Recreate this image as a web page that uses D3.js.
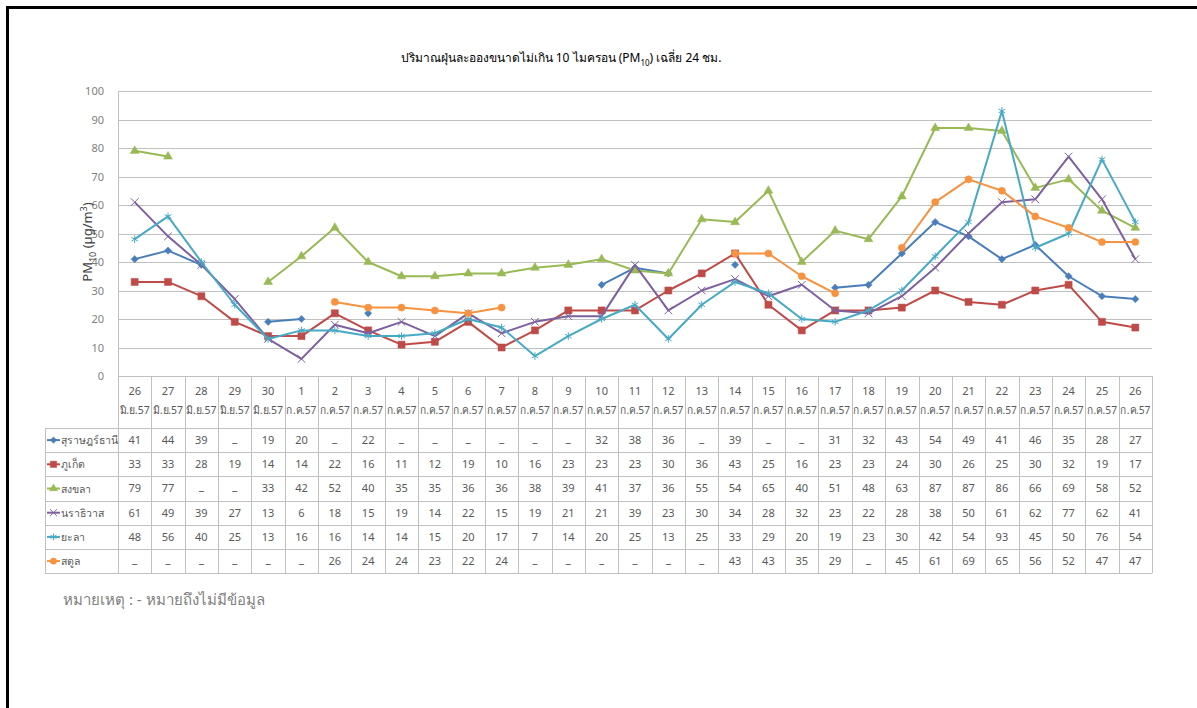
<!DOCTYPE html>
<html>
<head>
<meta charset="utf-8">
<script src="https://cdn.jsdelivr.net/npm/d3@7"></script>
<style>
  body { margin: 0; background: #fff; }
  svg { display: block; }
  text { font-family: "Noto Sans", "DejaVu Sans", sans-serif; fill: #595959; }
</style>
</head>
<body>
<script>
// dates along the x axis (day / month label)
const days = ["26","27","28","29","30","1","2","3","4","5","6","7","8","9","10","11","12","13","14","15","16","17","18","19","20","21","22","23","24","25","26"];
const months = ["มิ.ย.57","มิ.ย.57","มิ.ย.57","มิ.ย.57","มิ.ย.57",
  "ก.ค.57","ก.ค.57","ก.ค.57","ก.ค.57","ก.ค.57","ก.ค.57","ก.ค.57","ก.ค.57","ก.ค.57","ก.ค.57",
  "ก.ค.57","ก.ค.57","ก.ค.57","ก.ค.57","ก.ค.57","ก.ค.57","ก.ค.57","ก.ค.57","ก.ค.57","ก.ค.57",
  "ก.ค.57","ก.ค.57","ก.ค.57","ก.ค.57","ก.ค.57","ก.ค.57"];

// null = no data
const suratthani = [41,44,39,null,19,20,null,22,null,null,null,null,null,null,32,38,36,null,39,null,null,31,32,43,54,49,41,46,35,28,27];
const phuket     = [33,33,28,19,14,14,22,16,11,12,19,10,16,23,23,23,30,36,43,25,16,23,23,24,30,26,25,30,32,19,17];
const songkhla   = [79,77,null,null,33,42,52,40,35,35,36,36,38,39,41,37,36,55,54,65,40,51,48,63,87,87,86,66,69,58,52];
const narathiwat = [61,49,39,27,13,6,18,15,19,14,22,15,19,21,21,39,23,30,34,28,32,23,22,28,38,50,61,62,77,62,41];
const yala       = [48,56,40,25,13,16,16,14,14,15,20,17,7,14,20,25,13,25,33,29,20,19,23,30,42,54,93,45,50,76,54];
const satun      = [null,null,null,null,null,null,26,24,24,23,22,24,null,null,null,null,null,null,43,43,35,29,null,45,61,69,65,56,52,47,47];

const yTicks = [0,10,20,30,40,50,60,70,80,90,100];

const series = [
  { name: "สุราษฎร์ธานี", values: suratthani, color: "#4a7ebb", symbol: d3.symbolSquare, rot: 45, size: 26, fill: true },
  { name: "ภูเก็ต", values: phuket, color: "#be4b48", symbol: d3.symbolSquare, rot: 0, size: 50, fill: true },
  { name: "สงขลา", values: songkhla, color: "#98b954", symbol: d3.symbolTriangle, rot: 0, size: 34, fill: true },
  { name: "นราธิวาส", values: narathiwat, color: "#7d60a0", symbol: d3.symbolTimes, rot: 0, size: 40, fill: false },
  { name: "ยะลา", values: yala, color: "#46aac5", symbol: d3.symbolAsterisk, rot: 0, size: 40, fill: false },
  { name: "สตูล", values: satun, color: "#f69240", symbol: d3.symbolCircle, rot: 0, size: 40, fill: true }
];

const W = 1197, H = 708;
const plot = { left: 118, right: 1152, top: 91, bottom: 376 };
const tableLeft = 45, headerH = 52, rowH = 24.2;

const svg = d3.select("body").append("svg")
    .attr("width", W)
    .attr("height", H);

// frame lines (top + left)
svg.append("path")
    .attr("d", `M7.5,${H} V7.5 H${W}`)
    .attr("fill", "none")
    .attr("stroke", "#000")
    .attr("stroke-width", 3);

const x = d3.scaleBand()
    .domain(d3.range(days.length))
    .range([plot.left, plot.right]);

const y = d3.scaleLinear()
    .domain([0, 100])
    .range([plot.bottom, plot.top]);

// gridlines
svg.append("g")
  .selectAll("line")
  .data(yTicks)
  .enter()
  .append("line")
    .attr("x1", plot.left)
    .attr("x2", plot.right)
    .attr("y1", d => Math.round(y(d)) + 0.5)
    .attr("y2", d => Math.round(y(d)) + 0.5)
    .attr("stroke", "#c0c0c0");

// y axis labels
svg.append("g")
  .selectAll("text")
  .data(yTicks)
  .enter()
  .append("text")
    .attr("x", 104)
    .attr("y", d => y(d) + 4)
    .attr("text-anchor", "end")
    .style("font-size", "11px")
    .style("fill", "#7f7f7f")
    .text(d => d);

svg.append("line")
    .attr("x1", plot.left + 0.5).attr("x2", plot.left + 0.5)
    .attr("y1", plot.top).attr("y2", plot.bottom)
    .attr("stroke", "#c0c0c0");

// title
const title = svg.append("text")
    .attr("x", 561)
    .attr("y", 62)
    .attr("text-anchor", "middle")
    .style("font-size", "12px")
    .style("fill", "#000");
title.append("tspan").text("ปริมาณฝุ่นละอองขนาดไม่เกิน 10 ไมครอน (PM");
title.append("tspan").attr("dy", 4).style("font-size", "8px").text("10");
title.append("tspan").attr("dy", -4).text(") เฉลี่ย 24 ชม.");

// y axis title
const ylab = svg.append("text")
    .attr("transform", "translate(92,242) rotate(-90)")
    .attr("text-anchor", "middle")
    .style("font-size", "13px")
    .style("fill", "#404040");
ylab.append("tspan").text("PM");
ylab.append("tspan").attr("dy", 4).style("font-size", "9px").text("10");
ylab.append("tspan").attr("dy", -4).text(" (µg/m");
ylab.append("tspan").attr("dy", -5).style("font-size", "9px").text("3");
ylab.append("tspan").attr("dy", 5).text(")");

// lines + markers
const cx = i => x(i) + x.bandwidth() / 2;

const line = d3.line()
    .defined(d => d != null)
    .x((d, i) => cx(i))
    .y(d => y(d));

series.forEach(s => {
  svg.append("path")
      .datum(s.values)
      .attr("fill", "none")
      .attr("stroke", s.color)
      .attr("stroke-width", 2)
      .attr("stroke-linejoin", "round")
      .attr("d", line);

  svg.append("g")
    .selectAll("path")
    .data(s.values.map((v, i) => ({ v, i })).filter(d => d.v != null))
    .enter()
    .append("path")
      .attr("transform", d => `translate(${cx(d.i)},${y(d.v)}) rotate(${s.rot})`)
      .attr("d", d3.symbol().type(s.symbol).size(s.size))
      .attr("fill", s.fill ? s.color : "none")
      .attr("stroke", s.color)
      .attr("stroke-width", s.fill ? 0.5 : 1);
});

// data table
const tableTop = plot.bottom;
const tableBottom = tableTop + headerH + rowH * series.length;
const grid = svg.append("g").attr("stroke", "#c0c0c0").attr("fill", "none");

// column lines
x.domain().concat([days.length]).forEach(i => {
  const xx = Math.round(i < days.length ? x(i) : plot.right) + 0.5;
  grid.append("line")
      .attr("x1", xx).attr("x2", xx)
      .attr("y1", tableTop).attr("y2", tableBottom);
});
grid.append("line")
    .attr("x1", tableLeft + 0.5).attr("x2", tableLeft + 0.5)
    .attr("y1", tableTop + headerH).attr("y2", tableBottom);

// row lines
d3.range(series.length + 1).forEach(r => {
  const yy = Math.round(tableTop + headerH + r * rowH) + 0.5;
  grid.append("line")
      .attr("x1", tableLeft).attr("x2", plot.right)
      .attr("y1", yy).attr("y2", yy);
});

// header
const head = svg.append("g");
head.selectAll(".day")
  .data(days)
  .enter()
  .append("text")
    .attr("x", (d, i) => cx(i))
    .attr("y", tableTop + 19)
    .attr("text-anchor", "middle")
    .style("font-size", "11px")
    .text(d => d);
head.selectAll(".mon")
  .data(months)
  .enter()
  .append("text")
    .attr("x", (d, i) => cx(i))
    .attr("y", tableTop + 38)
    .attr("text-anchor", "middle")
    .attr("textLength", 30)
    .attr("lengthAdjust", "spacingAndGlyphs")
    .style("font-size", "11px")
    .text(d => d);

// rows
series.forEach((s, r) => {
  const rowY = tableTop + headerH + r * rowH;
  const g = svg.append("g");
  g.selectAll("text")
    .data(s.values)
    .enter()
    .append("text")
      .attr("x", (d, i) => cx(i))
      .attr("y", d => rowY + (d == null ? 14 : 16))
      .attr("text-anchor", "middle")
      .style("font-size", "11px")
      .style("fill", d => d == null ? "#333" : "#595959")
      .text(d => d == null ? "_" : d);

  // legend key
  const ky = rowY + rowH / 2;
  g.append("line")
      .attr("x1", 47).attr("x2", 60)
      .attr("y1", ky).attr("y2", ky)
      .attr("stroke", s.color)
      .attr("stroke-width", 2);
  g.append("path")
      .attr("transform", `translate(53.5,${ky}) rotate(${s.rot})`)
      .attr("d", d3.symbol().type(s.symbol).size(s.size * 0.8))
      .attr("fill", s.fill ? s.color : "none")
      .attr("stroke", s.color)
      .attr("stroke-width", s.fill ? 0.5 : 1);
  g.append("text")
      .attr("x", 61)
      .attr("y", ky + 4)
      .style("font-size", "10.5px")
      .text(s.name);
});

// note
svg.append("text")
    .attr("x", 63)
    .attr("y", 605)
    .style("font-size", "15px")
    .style("fill", "#7f7f7f")
    .text("หมายเหตุ : - หมายถึงไม่มีข้อมูล");
</script>
</body>
</html>
